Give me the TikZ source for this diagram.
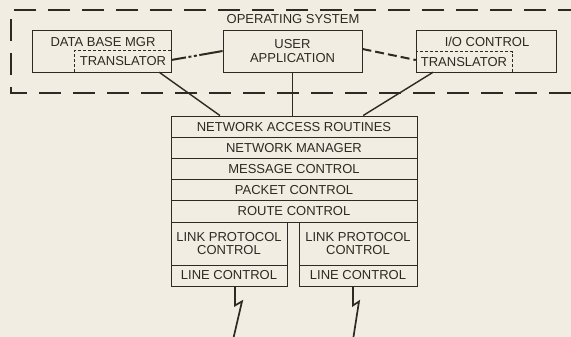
\documentclass[tikz,border=0pt]{standalone}
\usepackage{fontspec}
\setmainfont{Liberation Sans}
\usetikzlibrary{calc}
\definecolor{paper}{RGB}{242,237,226}
\definecolor{ink}{RGB}{45,41,37}

\begin{document}
\begin{tikzpicture}[x=1pt,y=-1pt,
  every node/.style={font=\fontsize{13}{13.5}\selectfont, text=ink, inner sep=0pt, align=center},
  layer/.style={draw=ink, line width=0.9pt},
  frame/.style={draw=ink, line width=0.9pt},
  trbox/.style={draw=ink, line width=0.8pt, dash pattern=on 3pt off 2pt},
  osline/.style={draw=ink, line width=1.7pt, dash pattern=on 22pt off 12pt},
  link/.style={draw=ink, line width=1.4pt},
  dotlink/.style={draw=ink, line width=2pt, dash pattern=on 15pt off 2.5pt on 3pt off 2.5pt on 3pt off 2.5pt on 80pt off 1pt},
  dashlink/.style={draw=ink, line width=2pt, dash pattern=on 9pt off 4pt},
  bolt/.style={draw=ink, line width=1.7pt, line join=miter}
]
% paper and page extent
\fill[paper] (0,0) rectangle (571,337);
\clip (0,0) rectangle (571,337);

% operating system boundary (open to the right)
\draw[osline] (580,10) -- (11,10) -- (11,93) -- (580,93);
\node (os) at (293,19) {OPERATING SYSTEM};

% data base manager with its translator
\node[frame, minimum width=139, minimum height=42] (db) at (101.5,51) {};
\node (dblabel) at (103,42) {DATA BASE MGR};
\node[minimum width=96, minimum height=21] (dbtr) at (123,61.5) {TRANSLATOR};
\draw[trbox] (dbtr.north east) -- (dbtr.north west) -- (dbtr.south west);

% user application
\node[frame, minimum width=139, minimum height=42] (ua) at (292.5,51) {USER\\APPLICATION};

% I/O control with its translator
\node[frame, minimum width=140, minimum height=42] (io) at (486,51) {};
\node (iolabel) at (487,42) {I/O CONTROL};
\node[minimum width=96, minimum height=20] (iotr) at (464,62) {TRANSLATOR};
\draw[trbox] (iotr.south east) -- (iotr.north east) -- (iotr.north west);

% network software stack
\node[layer, minimum width=246, minimum height=21.2] (nar) at (294,126.6) {NETWORK ACCESS ROUTINES};
\node[layer, minimum width=246, minimum height=21.2] (nm)  at (294,147.8) {NETWORK MANAGER};
\node[layer, minimum width=246, minimum height=21.2] (mc)  at (294,169.0) {MESSAGE CONTROL};
\node[layer, minimum width=246, minimum height=21.2] (pc)  at (294,190.2) {PACKET CONTROL};
\node[layer, minimum width=246, minimum height=21.2] (rc)  at (294,211.4) {ROUTE CONTROL};

\node[layer, minimum width=116, minimum height=43] (lpcl) at (229,243.5) {LINK PROTOCOL\\CONTROL};
\node[layer, minimum width=116, minimum height=21] (lcl)  at (229,275.5) {LINE CONTROL};
\node[layer, minimum width=118, minimum height=43] (lpcr) at (358,243.5) {LINK PROTOCOL\\CONTROL};
\node[layer, minimum width=118, minimum height=21] (lcr)  at (358,275.5) {LINE CONTROL};

% connections inside the operating system
\draw[dotlink] ([yshift=1.5]dbtr.east) -- (ua.west);
\draw[dashlink] ([yshift=2]ua.east) -- ([yshift=2]iotr.west);

% connections down to the stack
\draw[link] ($(dbtr.south)!0.75!(dbtr.south east)$) -- ($(nar.north west)!0.2!(nar.north east)$);
\draw[link, line width=1.7pt] (ua.south) -- (ua.south |- nar.north);
\draw[link] ($(iotr.south west)!0.18!(iotr.south east)$) -- ($(nar.north west)!0.78!(nar.north east)$);

% communication lines leaving the line controls
\coordinate (boltl) at (233,340);
\coordinate (boltr) at (353,340);
\draw[bolt] ([xshift=6]lcl.south) -- ++(0,19) -- ++(7,-4) -- (boltl);
\draw[bolt] ([xshift=-5]lcr.south) -- ++(0,19) -- ++(6,-4) -- (boltr);
\end{tikzpicture}
\end{document}
